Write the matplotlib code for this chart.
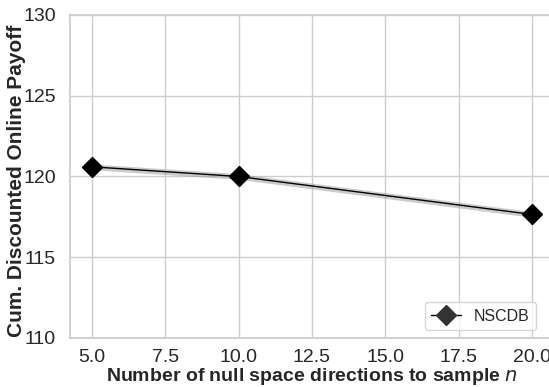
import matplotlib
matplotlib.use("Agg")
import matplotlib.pyplot as plt
import seaborn as sns
import numpy as np

n_values = [5.0, 10.0, 20.0]
payoff_mean = [120.6, 120.0, 117.65]
payoff_lo = [120.42, 119.82, 117.47]
payoff_hi = [120.78, 120.18, 117.83]
series_label = "NSCDB"

sns.set_theme(style="whitegrid")
plt.rcParams['font.family'] = ['Liberation Sans', 'DejaVu Sans']

fig = plt.figure(figsize=(5.49, 3.87), dpi=100)
ax = fig.add_axes([70/549, (387-338)/387, (554-70)/549, (338-15)/387])

ax.fill_between(n_values, payoff_lo, payoff_hi, color='0.6', alpha=0.5, linewidth=0)
ax.plot(n_values, payoff_mean, color='black', linewidth=1.0, marker='D', markersize=10.5,
        markerfacecolor='black', markeredgecolor='black', label=series_label)

ax.set_xlim(4.25, 20.75)
ax.set_ylim(110, 130)
ax.set_xticks([5.0, 7.5, 10.0, 12.5, 15.0, 17.5, 20.0])
ax.set_xticklabels(['5.0', '7.5', '10.0', '12.5', '15.0', '17.5', '20.0'])
ax.set_yticks([110, 115, 120, 125, 130])
ax.tick_params(axis='both', labelsize=14, colors='#262626')
ax.tick_params(axis='x', pad=2)
ax.tick_params(axis='y', pad=4)
ax.set_xlabel('Number of null space directions to sample $\\mathit{n}$', fontsize=14,
              fontweight='bold', color='#262626', labelpad=0)
ax.set_ylabel('Cum. Discounted Online Payoff', fontsize=15, fontweight='bold',
              color='#262626')
ax.yaxis.set_label_coords((26 - 70) / 484, (338 - 181) / 323)
leg = ax.legend(loc='lower right', fontsize=11.5, bbox_to_anchor=(0.98, 0.0),
                handlelength=1.9, borderaxespad=0.5)
for h in leg.legend_handles:
    h.set_markerfacecolor('#333333')
    h.set_markeredgecolor('#333333')

fig.savefig('out.png', dpi=100)
